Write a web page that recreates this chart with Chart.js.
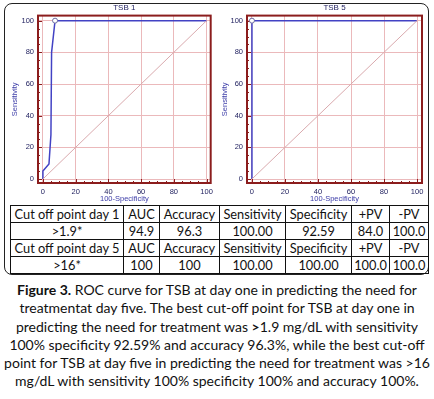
<!DOCTYPE html>
<html lang="en">
<head>
<meta charset="UTF-8">
<title>ROC curves TSB</title>
<script src="https://cdn.jsdelivr.net/npm/chart.js"></script>
<style>
  body { margin: 0; background: #fff; }
  #wrap { position: relative; width: 434px; height: 399px; font-family: Lato, sans-serif; color: #111; }
  #box { position: absolute; left: 4px; top: 3px; width: 423px; height: 270px; border: 1.5px solid #222; border-radius: 8px; }
  canvas { position: absolute; top: 2px; }
  #roc1 { left: 0; }
  #roc5 { left: 217px; }
  table { position: absolute; left: 10px; top: 205px; width: 411px; table-layout: fixed; border-collapse: collapse; font-size: 12.8px; }
  td { border: 1px solid #111; text-align: center; padding: 0; height: 16px; line-height: 16px; white-space: nowrap; overflow: hidden; }
  #caption { position: absolute; left: 0; top: 281px; width: 434px; text-align: center; font-size: 14px; line-height: 18.3px; }
</style>
</head>
<body>
<div id="wrap">
  <div id="box"></div>
  <canvas id="roc1" width="217" height="202"></canvas>
  <canvas id="roc5" width="217" height="202"></canvas>
  <table id="tbl"></table>
  <div id="caption"><b>Figure 3.</b> ROC curve for TSB at day one in predicting the need for<br>treatmentat day five. The best cut-off point for TSB at day one in<br>predicting the need for treatment was <b>&gt;</b>1.9 mg/dL with sensitivity<br>100% specificity 92.59% and accuracy 96.3%, while the best cut-off<br>point for TSB at day five in predicting the need for treatment was &gt;16<br>mg/dL with sensitivity 100% specificity 100% and accuracy 100%.</div>
</div>

<script>
  // ROC points (100-Specificity, Sensitivity)
  const tsb1X = [0, 0, 3.7, 4.9, 5.3, 7.41, 100];
  const tsb1Y = [0, 5, 9.5, 28, 80, 100, 100];
  const tsb1Cut = 5;   // index of the marked cut-off point
  const tsb5X = [0, 0, 100];
  const tsb5Y = [0, 100, 100];
  const tsb5Cut = 1;
  const diagX = [0, 100];
  const diagY = [0, 100];
  const axisTicks = [0, 20, 40, 60, 80, 100];

  // table
  const head1 = ['Cut off point day 1', 'AUC', 'Accuracy', 'Sensitivity', 'Specificity', '+PV', '-PV'];
  const row1 = ['>1.9*', '94.9', '96.3', '100.00', '92.59', '84.0', '100.0'];
  const head5 = ['Cut off point day 5', 'AUC', 'Accuracy', 'Sensitivity', 'Specificity', '+PV', '-PV'];
  const row5 = ['>16*', '100', '100', '100.00', '100.00', '100.0', '100.0'];
  const colWidths = [112, 35, 59, 65, 65, 37, 38];

  const tbl = document.getElementById('tbl');
  [head1, row1, head5, row5].forEach(r => {
    const tr = document.createElement('tr');
    r.forEach((txt, i) => {
      const td = document.createElement('td');
      td.textContent = txt;
      td.style.width = colWidths[i] + 'px';
      tr.appendChild(td);
    });
    tbl.appendChild(tr);
  });

  const frameColor = '#8b1d1d';

  // dark red frame with major/minor tick marks, like the MedCalc plot
  const framePlugin = {
    id: 'frame',
    beforeDatasetsDraw(chart) {
      const { ctx, chartArea: a, scales } = chart;
      ctx.save();
      ctx.strokeStyle = frameColor;
      ctx.lineWidth = 1;
      for (let v = 0; v <= 100; v += 5) {
        const len = v % 20 === 0 ? 4 : 2;
        const x = Math.round(scales.x.getPixelForValue(v)) + 0.5;
        const y = Math.round(scales.y.getPixelForValue(v)) + 0.5;
        ctx.beginPath();
        ctx.moveTo(x, a.bottom); ctx.lineTo(x, a.bottom - len);
        ctx.moveTo(a.left, y); ctx.lineTo(a.left + len, y);
        ctx.stroke();
      }
      ctx.lineWidth = 2;
      ctx.strokeRect(a.left, a.top, a.right - a.left, a.bottom - a.top);
      ctx.restore();
    }
  };

  function makeRoc(id, title, xs, ys, cut, yWidth, yTitlePad, xMin, xMax, padRight) {
    const pts = xs.map((x, i) => ({ x: x, y: ys[i] }));
    new Chart(document.getElementById(id), {
      type: 'scatter',
      data: {
        datasets: [{
          data: diagX.map((x, i) => ({ x: x, y: diagY[i] })),
          showLine: true,
          borderColor: '#d9a9ad',
          borderWidth: 1,
          pointRadius: 0
        }, {
          data: pts,
          showLine: true,
          borderColor: '#4242c4',
          borderWidth: 1.5,
          pointRadius: pts.map((p, i) => i === cut ? 2.5 : 0),
          pointBackgroundColor: '#fff',
          pointBorderColor: '#6a6aa0',
          pointBorderWidth: 1
        }]
      },
      options: {
        responsive: false,
        animation: false,
        layout: { padding: { top: 0, right: padRight, bottom: 0, left: 0 } },
        plugins: {
          legend: { display: false },
          tooltip: { enabled: false },
          title: {
            display: true,
            text: title,
            fullSize: false,
            color: '#1c1c5c',
            font: { family: 'Liberation Sans', size: 8, weight: 'normal' },
            padding: { top: 1, bottom: 3 }
          }
        },
        scales: {
          x: {
            type: 'linear',
            min: xMin,
            max: xMax,
            afterBuildTicks: s => { s.ticks = axisTicks.map(v => ({ value: v })); },
            afterFit: s => { s.height = 21; },
            grid: { color: '#ebb9bb', drawTicks: false },
            border: { display: false },
            ticks: { color: '#1c1c5c', padding: 4, font: { family: 'Liberation Sans', size: 7.5 } },
            title: {
              display: true, text: '100-Specificity', color: '#3c3ca8',
              font: { family: 'Liberation Sans', size: 7.5 }, padding: { top: 0, bottom: 1 }
            }
          },
          y: {
            type: 'linear',
            min: -2.5,
            max: 103.2,
            afterBuildTicks: s => { s.ticks = axisTicks.map(v => ({ value: v })); },
            afterFit: s => { s.width = yWidth; },
            grid: { color: '#ebb9bb', drawTicks: false },
            border: { display: false },
            ticks: { color: '#1c1c5c', padding: 4, font: { family: 'Liberation Sans', size: 7.5 } },
            title: {
              display: true, text: 'Sensitivity', color: '#3c3ca8',
              font: { family: 'Liberation Sans', size: 7.5 }, padding: { top: yTitlePad, bottom: 0 }
            }
          }
        }
      },
      plugins: [framePlugin]
    });
  }

  makeRoc('roc1', 'TSB 1', tsb1X, tsb1Y, tsb1Cut, 38, 10, -3, 102.5, 5);
  makeRoc('roc5', 'TSB 5', tsb5X, tsb5Y, tsb5Cut, 30, 3, -3, 103, 12);
</script>
</body>
</html>
